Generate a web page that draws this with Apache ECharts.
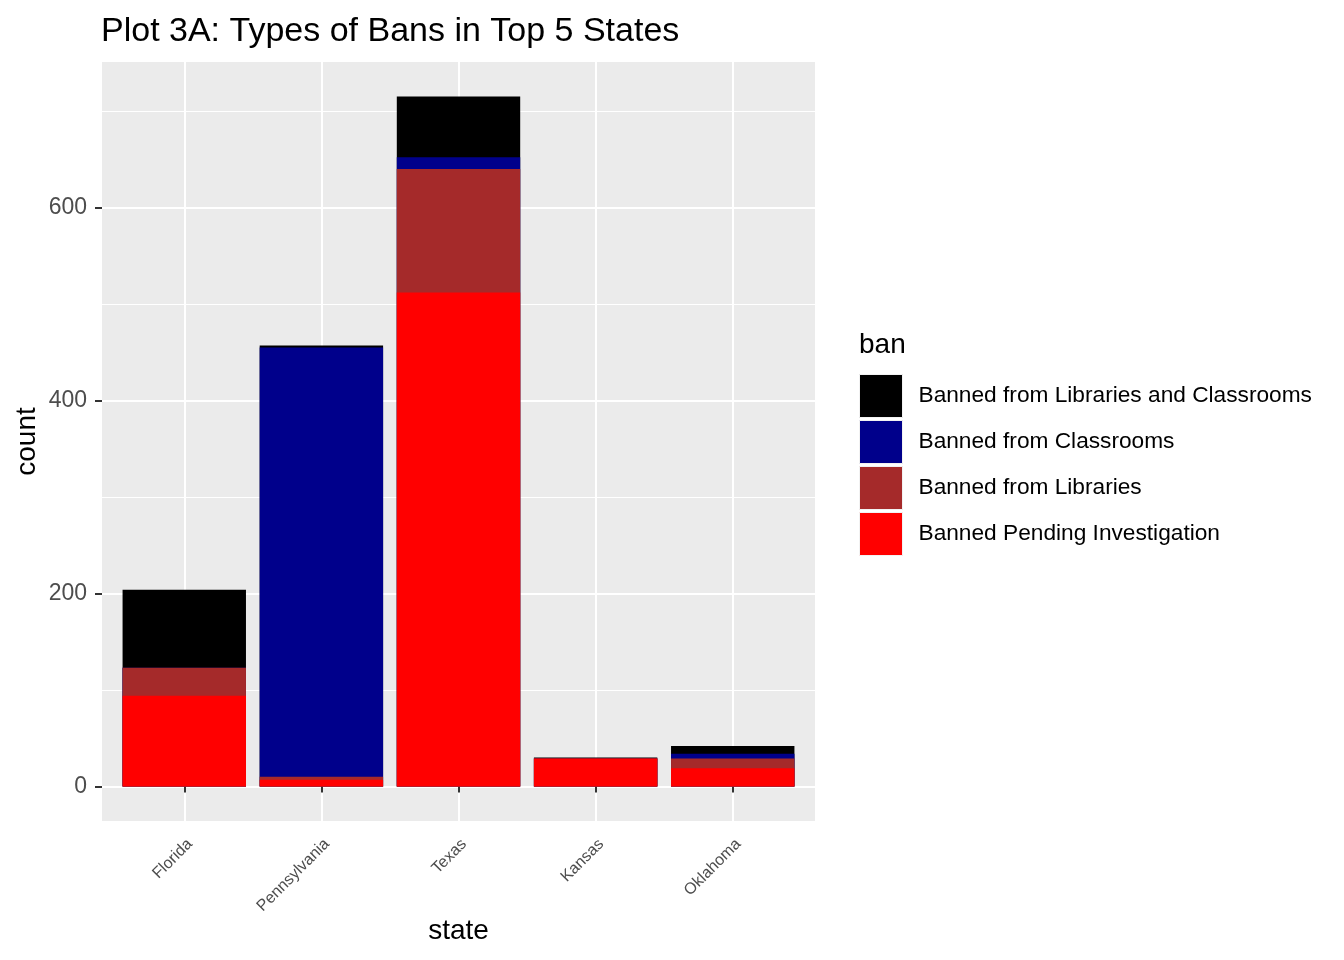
<!DOCTYPE html>
<html>
<head>
<meta charset="utf-8">
<script src="https://cdn.jsdelivr.net/npm/echarts@6/dist/echarts.min.js"></script>
<style>
html,body{margin:0;padding:0;background:#fff;}
#chart{width:1344px;height:960px;}
</style>
</head>
<body>
<div id="chart"></div>
<script>
const states = ['Florida', 'Pennsylvania', 'Texas', 'Kansas', 'Oklahoma'];
const pendingInvestigation = [94, 7, 512, 29, 19];
const fromLibraries = [29, 3, 128, 0, 10];
const fromClassrooms = [0, 445, 12, 0, 5];
const fromLibrariesAndClassrooms = [81, 2, 63, 1, 8];
const yMajorTicks = [0, 200, 400, 600];
const yMinorTicks = [100, 300, 500, 700];
const xPositions = [1, 2, 3, 4, 5];

const FONT = 'Liberation Sans, Arial, Helvetica, sans-serif';

// stacking order bottom -> top
const layers = [
  { name: 'Banned Pending Investigation', data: pendingInvestigation, color: '#FF0000' },
  { name: 'Banned from Libraries', data: fromLibraries, color: '#A52A2A' },
  { name: 'Banned from Classrooms', data: fromClassrooms, color: '#00008B' },
  { name: 'Banned from Libraries and Classrooms', data: fromLibrariesAndClassrooms, color: '#000000' }
];

// cumulative tops for each layer (stack computed from the raw arrays)
const running = states.map(() => 0);
const cumLayers = layers.map(l => {
  const tops = l.data.map((v, i) => (running[i] += v));
  return { name: l.name, color: l.color, tops: tops.slice() };
});

// draw from the top layer down so lower layers paint over upper ones
const drawOrder = cumLayers.slice().reverse();

const chart = echarts.init(document.getElementById('chart'), null, { renderer: 'canvas' });
chart.setOption({
  animation: false,
  backgroundColor: '#FFFFFF',
  textStyle: { fontFamily: FONT },
  title: [
    { text: 'Plot 3A: Types of Bans in Top 5 States', left: 101, top: 15, padding: 0,
      textStyle: { fontFamily: FONT, fontSize: 34, fontWeight: 'normal', color: '#000000' } },
    { text: 'ban', left: 859, top: 331, padding: 0,
      textStyle: { fontFamily: FONT, fontSize: 28, fontWeight: 'normal', color: '#000000' } }
  ],
  legend: {
    orient: 'vertical',
    left: 859,
    top: 374,
    padding: 0,
    itemWidth: 43,
    itemHeight: 43,
    itemGap: 2,
    icon: 'rect',
    data: layers.map(s => s.name).reverse(),
    itemStyle: { borderColor: '#F2F2F2', borderWidth: 1 },
    textStyle: { fontFamily: FONT, fontSize: 22.7, color: '#000000', padding: [0, 0, 0, 11] }
  },
  grid: {
    left: 102, right: 529, top: 62, bottom: 139,
    show: true, backgroundColor: '#EBEBEB', borderWidth: 0
  },
  xAxis: {
    type: 'value',
    min: 0.4, max: 5.6,
    name: 'state',
    nameLocation: 'middle',
    nameMoveOverlap: false,
    nameGap: 96,
    nameTextStyle: { fontFamily: FONT, fontSize: 28, color: '#000000' },
    axisLine: { show: false },
    axisTick: { show: true, customValues: xPositions, length: 6, lineStyle: { color: '#333333', width: 2 } },
    axisLabel: {
      customValues: xPositions,
      rotate: 45,
      margin: 15,
      align: 'right',
      verticalAlign: 'top',
      fontFamily: FONT, fontSize: 16, color: '#4D4D4D',
      formatter: v => states[Math.round(v) - 1] || ''
    },
    splitLine: { show: true, lineStyle: { color: '#FFFFFF', width: 2 } }
  },
  yAxis: [
    {
      type: 'value',
      min: -35.75, max: 750.75,
      name: 'count',
      nameLocation: 'middle',
      nameMoveOverlap: false,
      nameGap: 61,
      nameTextStyle: { fontFamily: FONT, fontSize: 28, color: '#000000' },
      axisLine: { show: false },
      axisTick: { show: true, customValues: yMajorTicks, length: 7, lineStyle: { color: '#333333', width: 2 } },
      axisLabel: { customValues: yMajorTicks, margin: 15, fontFamily: FONT, fontSize: 23, color: '#4D4D4D' },
      splitLine: { show: true, lineStyle: { color: '#FFFFFF', width: 2 } }
    },
    {
      type: 'value',
      min: -35.75, max: 750.75,
      position: 'left',
      axisLine: { show: false },
      axisTick: { show: false, customValues: yMinorTicks },
      axisLabel: { show: false, customValues: yMinorTicks },
      splitLine: { show: true, lineStyle: { color: '#FFFFFF', width: 1 } }
    }
  ],
  series: drawOrder.map(s => ({
    name: s.name,
    type: 'bar',
    barWidth: '90%',
    barGap: '-100%',
    data: s.tops.map((v, i) => [xPositions[i], v]),
    itemStyle: { color: s.color },
    emphasis: { disabled: true }
  }))
});
</script>
</body>
</html>
